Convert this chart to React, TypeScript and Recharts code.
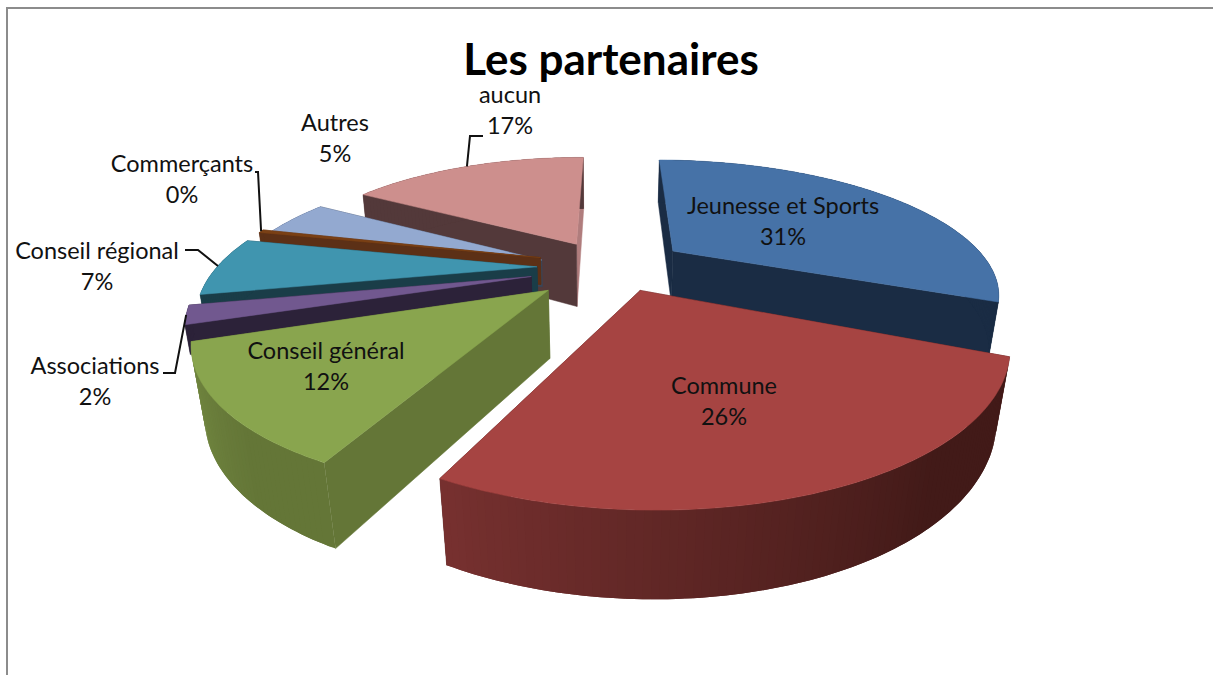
import { PieChart, Pie } from 'recharts'

const categories = ['Jeunesse et Sports', 'Commune', 'Conseil général', 'Associations', 'Conseil régional', 'Commerçants', 'Autres', 'aucun']
const values = [31.3, 26.0, 12.4, 2.1, 6.8, 0.4, 4.7, 16.6]
const chartData = categories.map((name, i) => ({ name, value: values[i] }))

// back to front, every slice gets its own Pie so it paints over the ones behind
const paintOrder = ['Jeunesse et Sports', 'aucun', 'Autres', 'Commerçants', 'Conseil régional', 'Associations', 'Conseil général', 'Commune']

// radial pull-out, screen nudge x/y, radius factor, wall height
const sliceLayout: Record<string, number[]> = {
  'Jeunesse et Sports': [90, -5, 1, 1, 60],
  Commune: [90, 0, -15, 1, 72],
  'Conseil général': [70, -3, 2, 1, 74],
  Associations: [60, -16, 1, 1, 30],
  'Conseil régional': [60, -9, -2, 1, 58],
  'Commerçants': [60, -8, -6, 0.98, 30],
  Autres: [60, -10, 0, 0.97, 30],
  aucun: [50, -6, -8, 0.93, 72],
}
// top, start wall, end wall, outer wall at clockwise start and end
const palette: Record<string, string[]> = {
  'Jeunesse et Sports': ['#4672a7', '#1a2c44', '#1a2c44', '#1a2c44', '#1a2c44'],
  Commune: ['#a64442', '#4a1a19', '#4a1a19', '#421a18', '#783130'],
  'Conseil général': ['#89a54e', '#647637', '#647637', '#647637', '#748a42'],
  Associations: ['#71588f', '#2c2239', '#2c2239', '#2c2239', '#2c2239'],
  'Conseil régional': ['#4095af', '#1a3d48', '#1a3d48', '#1a3d48', '#1a3d48'],
  'Commerçants': ['#7a4015', '#5c3016', '#5c3016', '#5c3016', '#5c3016'],
  Autres: ['#93a9d0', '#3b4557', '#3b4557', '#3b4557', '#3b4557'],
  aucun: ['#cd8f8d', '#b07d7d', '#53393a', '#53393a', '#53393a'],
}
const labelAt: Record<string, [number, number]> = {
  'Jeunesse et Sports': [783, 205], Commune: [724, 385], 'Conseil général': [326, 350],
  Associations: [95, 365], 'Conseil régional': [97, 250], 'Commerçants': [182, 163],
  Autres: [335, 122], aucun: [510, 94],
}
const leaderElbows: Record<string, number[][]> = {
  aucun: [[470, 136], [483, 136]],
  'Commerçants': [[258, 172], [255, 172]],
  'Conseil régional': [[198, 250], [185, 250]],
  Associations: [[175, 373], [163, 373]],
}

const CAM = 1000
const ELEV = 0.41 // radians
const FONT = 'Lato, sans-serif'

function project(cx: number, cy: number, X: number, Y: number, Z: number) {
  const d = CAM - (Y * Math.cos(ELEV) + Z * Math.sin(ELEV))
  return [cx + (CAM * X) / d, cy + (CAM * (Y * Math.sin(ELEV) - Z * Math.cos(ELEV))) / d]
}

// a = clockwise degrees from the back of the pie, r = distance from slice apex
function slicePoint(p: any, a: number, r: number, z: number) {
  const rad = (a * Math.PI) / 180
  const mid = ((90 - p.midAngle) * Math.PI) / 180
  const [ex, nudgeX, nudgeY, scale] = sliceLayout[p.name]
  const rr = r * scale
  return project(p.cx + nudgeX, p.cy + nudgeY, rr * Math.sin(rad) + ex * Math.sin(mid), -rr * Math.cos(rad) - ex * Math.cos(mid), z)
}

const toPath = (pts: number[][]) => 'M' + pts.map((q) => `${q[0].toFixed(1)},${q[1].toFixed(1)}`).join('L') + 'Z'

function mixHex(a: string, b: string, t: number) {
  const ch = (h: string, i: number) => parseInt(h.slice(1 + i * 2, 3 + i * 2), 16)
  const out = [0, 1, 2].map((i) => Math.round(ch(a, i) + (ch(b, i) - ch(a, i)) * t))
  return `rgb(${out.join(',')})`
}

function Slice3D(p: any) {
  const colors = palette[p.name]
  const depth = sliceLayout[p.name][4]
  const from = 90 - p.startAngle
  const to = 90 - p.endAngle
  const R = p.outerRadius
  const steps = Math.max(2, Math.ceil(to - from))
  const angles = Array.from({ length: steps + 1 }, (_, i) => from + ((to - from) * i) / steps)
  const rim = angles.map((a) => slicePoint(p, a, R, 0))
  const rimLow = angles.map((a) => slicePoint(p, a, R, -depth))
  const apex = slicePoint(p, 0, 0, 0)
  const apexLow = slicePoint(p, 0, 0, -depth)
  const wallA = [apex, rim[0], rimLow[0], apexLow]
  const wallB = [apex, rim[steps], rimLow[steps], apexLow]
  return (
    <g>
      <path d={toPath(wallB)} fill={colors[1]} stroke={colors[1]} strokeWidth={0.5} />
      <path d={toPath(wallA)} fill={colors[2]} stroke={colors[2]} strokeWidth={0.5} />
      {angles.slice(1).map((_, i) => {
        // each strip runs on under the next one, no seams that way
        const j = Math.min(i + 2, steps)
        const t = Math.max(0, (i / steps - 0.3) / 0.7)
        return <path key={i} d={toPath([rim[i], rim[i + 1], rim[j], rimLow[j], rimLow[i + 1], rimLow[i]])} fill={mixHex(colors[3], colors[4], t)} />
      }).reverse()}
      <path d={toPath([apex, ...rim])} fill={colors[0]} stroke={colors[0]} strokeWidth={0.5} />
    </g>
  )
}

function SliceLabel(p: any) {
  const [x, y] = labelAt[p.name]
  const elbows = leaderElbows[p.name]
  const txt = { x, textAnchor: 'middle' as const, dominantBaseline: 'central' as const, fontFamily: FONT, fontSize: 23.5, fill: '#111' }
  return (
    <g>
      {elbows && (
        <polyline
          points={[slicePoint(p, 90 - p.midAngle, p.outerRadius, 0), ...elbows].map((q) => q.join(',')).join(' ')}
          fill="none" stroke="#111" strokeWidth={2}
        />
      )}
      <text {...txt} y={y}>{p.name}</text>
      <text {...txt} y={y + 31}>{Math.round(p.percent * 100)}%</text>
    </g>
  )
}

export default function App() {
  const pieProps = {
    data: chartData, dataKey: 'value', nameKey: 'name', cx: 601, cy: 264,
    outerRadius: 320, startAngle: 89.5, endAngle: -270.5, isAnimationActive: false, stroke: 'none',
  }
  return (
    <div style={{ position: 'absolute', left: 0, top: 0, width: 1213, height: 675, background: '#fff', overflow: 'hidden' }}>
      <div style={{ position: 'absolute', left: 6, top: 7, right: 0, bottom: 0, borderLeft: '2px solid #8c8c8c', borderTop: '2px solid #8c8c8c' }} />
      <PieChart width={1213} height={675} style={{ position: 'absolute', left: 0, top: 0 }}>
        <text x={611} y={58} textAnchor="middle" dominantBaseline="central" fontFamily={FONT} fontWeight={700} fontSize={44} fill="#000">
          Les partenaires
        </text>
        {paintOrder.map((name) => (
          <Pie key={name} {...pieProps} shape={(p: any) => (p.name === name ? <Slice3D {...p} /> : <g />)} />
        ))}
        <Pie {...pieProps} fill="none" shape={() => <g />} labelLine={false} label={(p: any) => <SliceLabel {...p} />} />
      </PieChart>
    </div>
  )
}
